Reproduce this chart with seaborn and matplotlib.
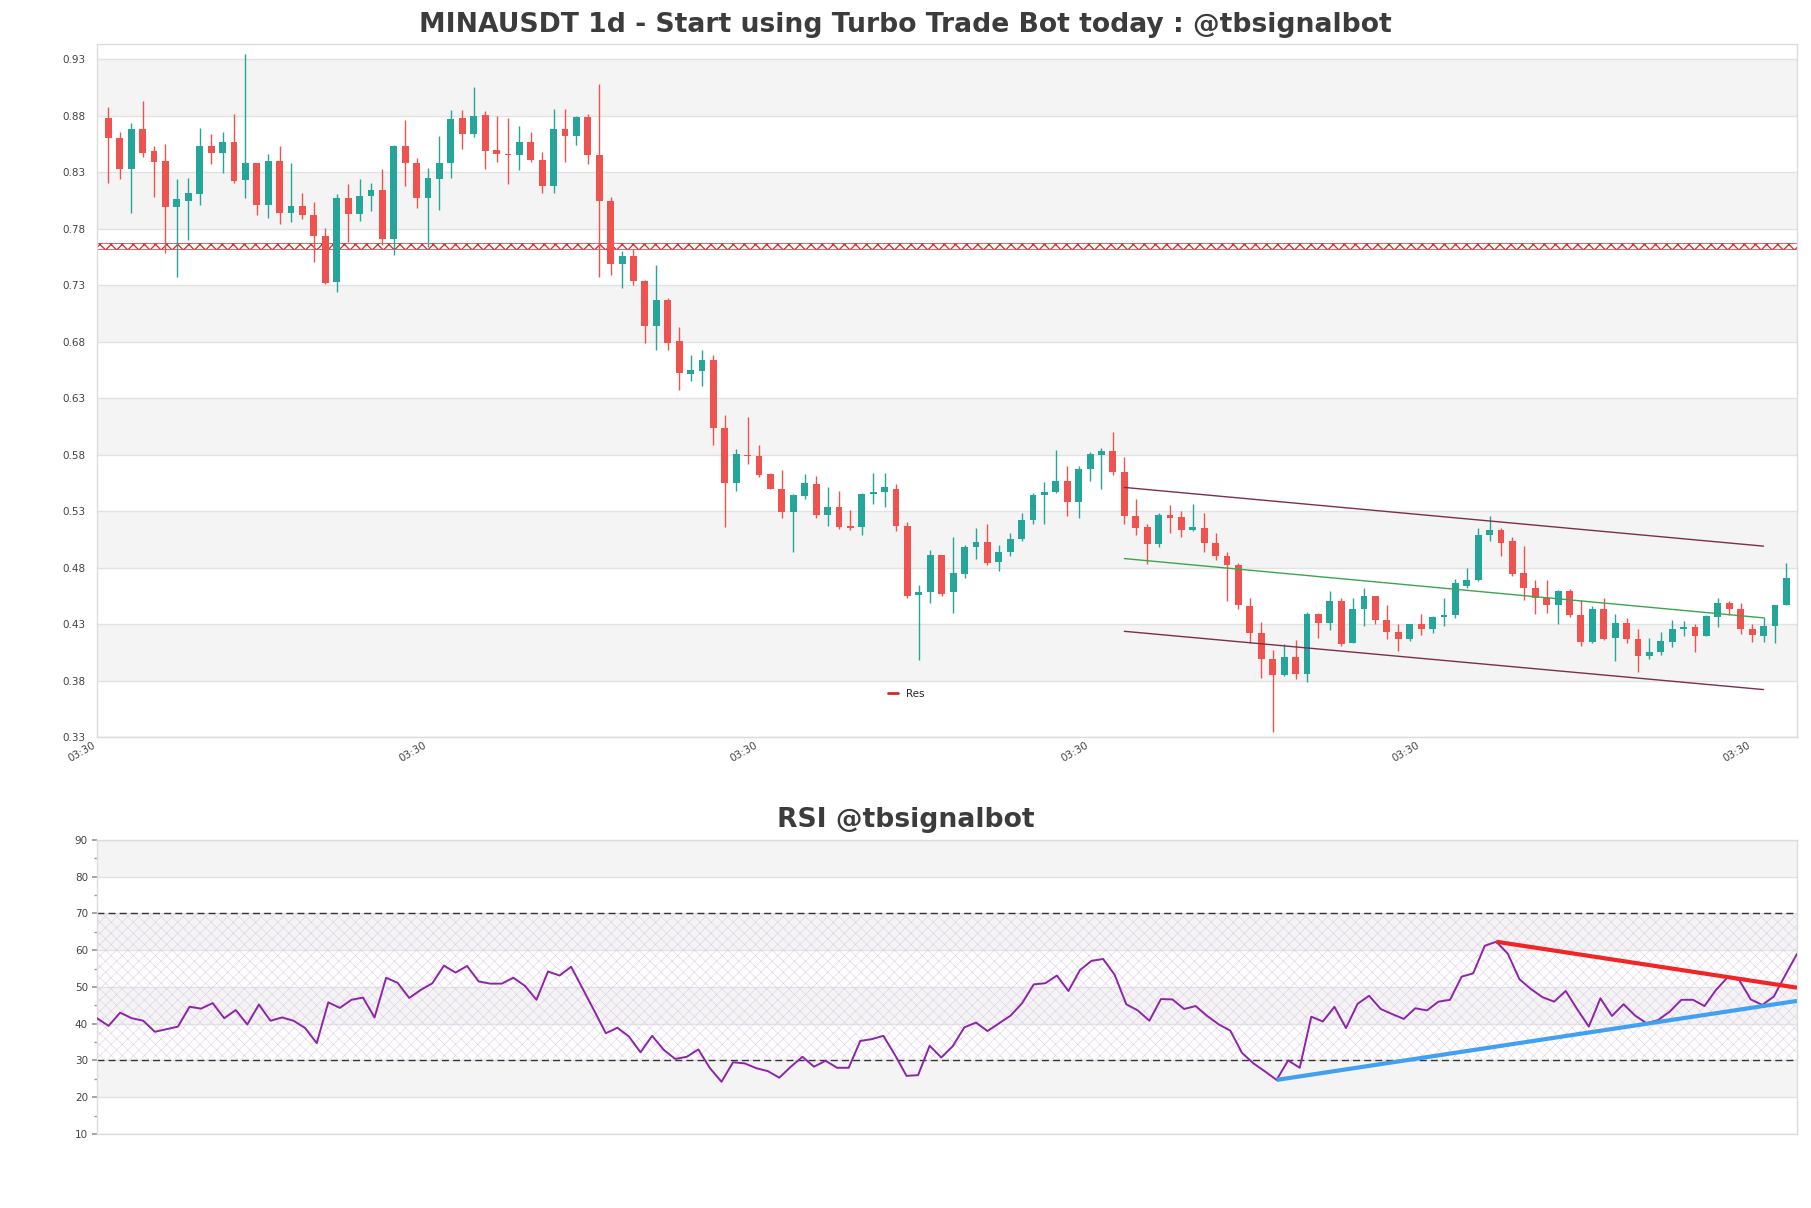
import numpy as np
import pandas as pd
import matplotlib
matplotlib.use("Agg")
import matplotlib.pyplot as plt
import seaborn as sns
from matplotlib.lines import Line2D
from matplotlib.ticker import MultipleLocator

# ---------------- data ----------------
opens = [.878,.860,.833,.868,.849,.840,.799,.805,.811,.853,
         .847,.857,.823,.838,.801,.840,.794,.800,.792,.774,
         .733,.807,.793,.809,.814,.771,.853,.838,.807,.824,
         .838,.878,.864,.881,.850,.846,.845,.857,.841,.818,
         .868,.862,.879,.845,.805,.749,.756,.734,.694,.717,
         .681,.651,.654,.664,.604,.555,.580,.579,.563,.550,
         .529,.543,.554,.527,.534,.517,.516,.545,.547,.550,
         .517,.456,.458,.491,.458,.474,.498,.503,.485,.494,
         .505,.522,.544,.547,.557,.538,.567,.580,.583,.565,
         .526,.516,.501,.527,.525,.513,.515,.502,.490,.482,
         .446,.422,.399,.385,.401,.386,.439,.431,.450,.413,
         .443,.455,.434,.423,.417,.430,.426,.436,.438,.464,
         .469,.509,.513,.504,.475,.462,.453,.447,.459,.438,
         .414,.443,.418,.431,.417,.402,.405,.414,.426,.427,
         .419,.436,.449,.443,.426,.419,.428,.447]
highs = [.888,.866,.874,.893,.853,.855,.824,.825,.869,.864,
         .866,.882,.935,.838,.846,.853,.838,.812,.804,.781,
         .811,.820,.824,.821,.833,.854,.876,.843,.834,.862,
         .885,.885,.906,.884,.880,.878,.871,.866,.848,.886,
         .886,.880,.882,.908,.808,.760,.762,.735,.748,.719,
         .693,.668,.673,.668,.615,.585,.613,.589,.564,.566,
         .545,.563,.561,.551,.548,.531,.546,.564,.564,.554,
         .520,.465,.496,.491,.507,.500,.515,.519,.500,.511,
         .528,.546,.556,.584,.570,.570,.582,.586,.600,.578,
         .541,.519,.528,.535,.530,.536,.528,.511,.494,.484,
         .453,.432,.407,.412,.416,.441,.440,.459,.453,.453,
         .462,.455,.447,.430,.430,.439,.437,.453,.470,.480,
         .515,.526,.515,.507,.499,.469,.469,.460,.461,.451,
         .446,.453,.439,.435,.426,.418,.423,.434,.433,.430,
         .438,.453,.450,.449,.430,.436,.447,.484]
lows = [.821,.824,.794,.844,.808,.759,.737,.770,.801,.837,
        .829,.821,.807,.792,.790,.784,.786,.789,.751,.731,
        .724,.768,.787,.796,.766,.757,.818,.798,.764,.797,
        .825,.851,.861,.833,.839,.820,.832,.839,.812,.812,
        .839,.854,.837,.737,.739,.728,.730,.679,.673,.673,
        .637,.645,.641,.589,.516,.548,.572,.560,.550,.524,
        .494,.541,.524,.517,.514,.513,.509,.536,.534,.512,
        .453,.398,.449,.455,.440,.471,.488,.482,.477,.490,
        .504,.519,.519,.546,.526,.524,.557,.550,.562,.519,
        .509,.483,.498,.511,.507,.512,.494,.487,.450,.443,
        .413,.382,.334,.384,.381,.379,.418,.425,.411,.413,
        .428,.430,.417,.406,.415,.420,.422,.428,.435,.462,
        .468,.504,.490,.473,.451,.439,.440,.430,.436,.411,
        .413,.416,.397,.413,.388,.399,.403,.410,.419,.405,
        .419,.427,.438,.421,.414,.414,.413,.447]
closes = [.860,.833,.868,.847,.839,.799,.806,.812,.853,.847,
          .857,.822,.838,.801,.840,.794,.800,.792,.774,.732,
          .807,.793,.809,.814,.771,.853,.838,.807,.825,.838,
          .877,.864,.880,.849,.846,.845,.857,.841,.818,.868,
          .862,.879,.845,.805,.749,.756,.734,.694,.717,.679,
          .652,.655,.664,.604,.555,.581,.579,.562,.550,.529,
          .544,.555,.527,.534,.516,.515,.545,.547,.551,.517,
          .455,.458,.491,.457,.475,.498,.503,.484,.494,.505,
          .522,.544,.547,.557,.538,.567,.581,.583,.565,.526,
          .515,.501,.527,.524,.513,.516,.502,.490,.482,.447,
          .422,.399,.385,.401,.386,.439,.431,.450,.412,.443,
          .455,.434,.423,.417,.430,.426,.436,.438,.466,.469,
          .509,.513,.502,.474,.462,.453,.447,.459,.438,.414,
          .443,.417,.431,.417,.402,.405,.415,.426,.427,.419,
          .437,.449,.443,.426,.420,.428,.447,.471]

rsi = [41.5,39.4,43.0,41.5,40.8,37.8,38.5,39.2,44.6,44.1,
       45.6,41.5,43.7,39.8,45.2,40.8,41.7,40.8,38.8,34.7,
       45.8,44.3,46.5,47.1,41.7,52.5,51.1,47.0,49.2,51.0,
       55.8,53.9,55.7,51.5,50.9,50.9,52.5,50.3,46.5,54.2,
       53.1,55.5,49.5,43.5,37.4,38.9,36.5,32.2,36.7,32.9,
       30.4,31.0,33.0,27.9,24.2,29.5,29.2,27.9,27.1,25.3,
       28.3,31.0,28.3,29.9,28.0,28.0,35.3,35.8,36.7,31.5,
       25.8,26.0,34.0,30.8,33.9,39.0,40.3,38.0,40.1,42.2,
       45.6,50.7,51.0,53.1,48.9,54.6,57.1,57.6,53.3,45.3,
       43.6,40.8,46.7,46.6,44.0,44.8,42.1,39.8,38.1,32.1,
       29.2,27.0,24.7,30.0,28.0,41.9,40.6,44.6,38.8,45.4,
       47.6,44.0,42.6,41.3,44.2,43.6,46.0,46.5,52.8,53.7,
       61.2,62.3,59.0,52.1,49.4,47.2,46.0,48.9,43.9,39.2,
       46.9,42.1,45.3,42.2,40.1,41.0,43.3,46.5,46.5,44.8,
       49.2,52.6,51.9,46.6,45.1,47.4,53.3,59.0]

res_level = 0.765
# channel lines (candle index start/end, price start/end)
chan_x = [89, 145]
chan_upper = [0.551, 0.499]
chan_mid = [0.488, 0.4355]
chan_lower = [0.4236, 0.372]
# RSI trend lines
rsi_red_x = [121, 147]
rsi_red_y = [62.3, 49.8]
rsi_blue_x = [102, 147]
rsi_blue_y = [24.7, 46.2]

price_ticks = [0.33, 0.38, 0.43, 0.48, 0.53, 0.58, 0.63, 0.68, 0.73, 0.78, 0.83, 0.88, 0.93]
price_bands = [0.38, 0.48, 0.58, 0.68, 0.78, 0.88]
xtick_pos = [-1, 28, 57, 86, 115, 144]
xtick_labels = ["03:30"] * 6
rsi_ticks = [10, 20, 30, 40, 50, 60, 70, 80, 90]
rsi_bands = [20, 40, 60, 80]

title_main = "MINAUSDT 1d - Start using Turbo Trade Bot today : @tbsignalbot"
title_rsi = "RSI @tbsignalbot"

# ---------------- style ----------------
sns.set_theme(style="white")
plt.rcParams["font.family"] = ["DejaVu Sans"]
UP, DOWN = "#26a69a", "#ef5350"
SPINE = "#dcdcdc"
BAND = "#f4f4f4"
GRID = "#e2e2e2"
TXT = "#444444"

fig = plt.figure(figsize=(18.11, 12.08), dpi=100)
ax1 = fig.add_axes([0.05356, 0.3899, 0.93871, 0.5740])
ax2 = fig.add_axes([0.05356, 0.0613, 0.93871, 0.2434])

# ---------------- main candles ----------------
df = pd.DataFrame({"o": opens, "h": highs, "l": lows, "c": closes})
df["x"] = np.arange(len(df))
up = df["c"] >= df["o"]
cols = np.where(up, UP, DOWN)
for b in price_bands:
    ax1.axhspan(b, b + 0.05, color=BAND, zorder=0, lw=0)
ax1.vlines(df["x"], df["l"], df["h"], colors=cols, lw=1.0, zorder=3)
body_bottom = np.minimum(df["o"], df["c"])
body_h = np.maximum((df["c"] - df["o"]).abs(), 0.0009)
ax1.bar(df["x"], body_h, bottom=body_bottom, width=0.6, color=cols, lw=0, zorder=4)

with plt.rc_context({"hatch.linewidth": 0.9}):
    ax1.axhspan(res_level - 0.0028, res_level + 0.0028, facecolor="none",
                edgecolor="#d62728", hatch="xxx", lw=0.5, zorder=2)

ax1.plot(chan_x, chan_upper, color="#7d2f48", lw=1.0, zorder=5)
ax1.plot(chan_x, chan_mid, color="#3aa64c", lw=1.0, zorder=5)
ax1.plot(chan_x, chan_lower, color="#7d2f48", lw=1.0, zorder=5)

ax1.set_xlim(-0.97, 147.93)
ax1.set_ylim(0.33, 0.944)
ax1.set_yticks(price_ticks)
ax1.set_yticklabels([f"{t:.2f}" for t in price_ticks])
ax1.set_xticks(xtick_pos)
ax1.set_xticklabels(xtick_labels, rotation=30, ha="right")
ax1.tick_params(axis="both", length=0, labelsize=7.5, labelcolor=TXT)
ax1.tick_params(axis="y", pad=8)
ax1.tick_params(axis="x", pad=2)
ax1.yaxis.grid(True, color=GRID, lw=1)
ax1.xaxis.grid(False)
ax1.set_axisbelow(True)
for s in ax1.spines.values():
    s.set_color(SPINE)
    s.set_linewidth(1)
leg = ax1.legend(handles=[Line2D([0], [0], color="#d62728", lw=2)], labels=["Res"],
                 loc="center", bbox_to_anchor=(0.476, 0.062), frameon=False,
                 fontsize=7.5, handlelength=1.0, handletextpad=0.8)

# ---------------- RSI ----------------
rdf = pd.DataFrame({"k": np.arange(len(rsi)), "rsi": rsi})
for b in rsi_bands:
    ax2.axhspan(b, b + 10, color=BAND, zorder=0, lw=0)
with plt.rc_context({"hatch.linewidth": 0.35}):
    ax2.fill_between([0, len(rsi) - 1], 30, 70, facecolor="none", edgecolor="#dcc6e6",
                     hatch="xxx", lw=0, zorder=1)
ax2.axhline(70, color="#333333", ls=(0, (5, 3)), lw=1, zorder=2)
ax2.axhline(30, color="#333333", ls=(0, (5, 3)), lw=1, zorder=2)
sns.lineplot(data=rdf, x="k", y="rsi", ax=ax2, color="#8e24aa", lw=1.4, zorder=4)
ax2.plot(rsi_red_x, rsi_red_y, color="#f02626", lw=3, zorder=5, solid_capstyle="butt")
ax2.plot(rsi_blue_x, rsi_blue_y, color="#42a0f0", lw=3, zorder=5, solid_capstyle="butt")
ax2.set_xlim(0, len(rsi) - 1)
ax2.set_ylim(10, 90)
ax2.set_yticks(rsi_ticks)
ax2.yaxis.set_minor_locator(MultipleLocator(5))
ax2.set_xticks([])
ax2.set_xlabel("")
ax2.set_ylabel("")
ax2.tick_params(axis="y", which="major", length=3.5, color="#999999", labelsize=7.5,
                labelcolor=TXT, left=True, pad=3)
ax2.tick_params(axis="y", which="minor", length=2, color="#999999", left=True)
ax2.yaxis.grid(True, color=GRID, lw=1)
ax2.set_axisbelow(True)
for s in ax2.spines.values():
    s.set_color(SPINE)
    s.set_linewidth(1)

# ---------------- titles ----------------
fig.text(0.5, 0.979, title_main, ha="center", va="center", fontsize=19.2,
         fontweight="bold", color="#3c3c3c")
fig.text(0.5, 0.321, title_rsi, ha="center", va="center", fontsize=19.2,
         fontweight="bold", color="#3c3c3c")

fig.savefig("out.png", dpi=100)
